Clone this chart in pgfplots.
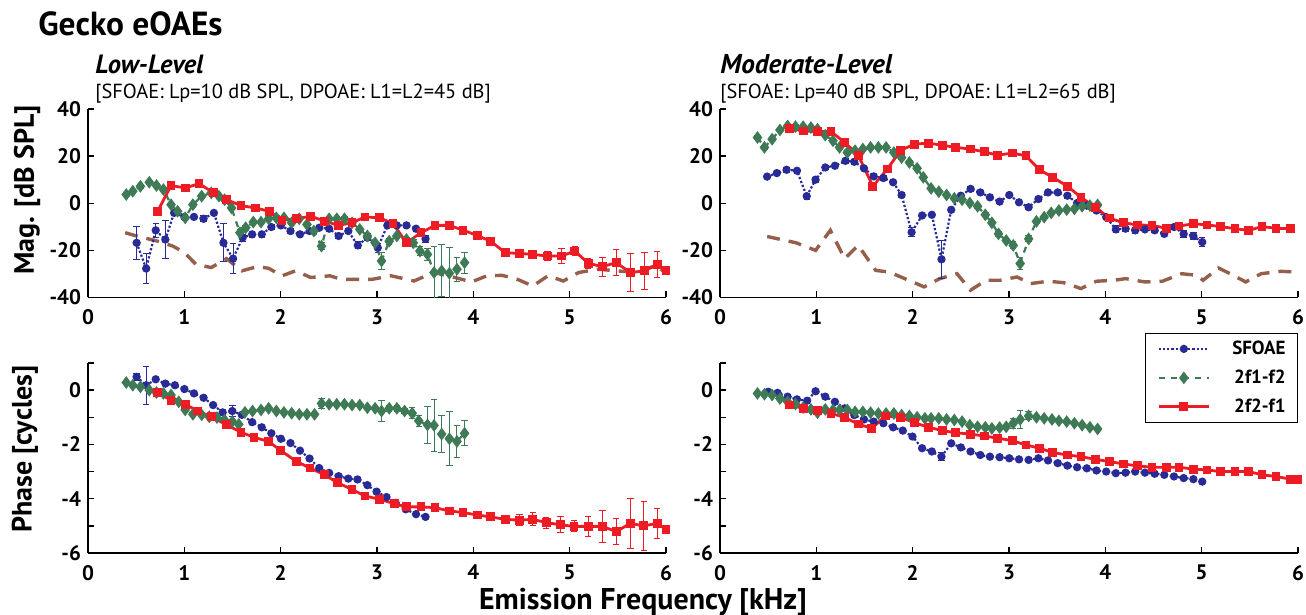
\documentclass[border=0pt]{standalone}
\usepackage{fontspec}
\setmainfont{PT Sans}
\usepackage{pgfplots}
\pgfplotsset{compat=1.18}
\definecolor{cblue}{RGB}{40,42,150}
\definecolor{cgreen}{RGB}{62,122,86}
\definecolor{cred}{RGB}{237,28,36}
\definecolor{cbrown}{RGB}{150,95,75}
\pgfplotsset{
 panel/.style={scale only axis, width=289pt, xmin=0, xmax=6, xtick={0,...,6},
   axis x line*=bottom, axis y line*=left, axis line style={line width=0.9pt,-},
   tick style={line width=0.7pt, black}, major tick length=3pt, tick align=inside,
   tick label style={font=\bfseries\fontsize{10.5}{12}\selectfont},
   xticklabel style={yshift=-2.5pt},
   /pgf/number format/assume math mode=true, anchor=south west,
   legend image code/.code={\draw[mark repeat=2,mark phase=2,##1] plot coordinates {(0pt,0pt) (12.5pt,0pt) (25pt,0pt)};}},
 magpanel/.style={panel, height=94.25pt, ymin=-40, ymax=40, ytick={-40,-20,0,20,40}},
 phasepanel/.style={panel, height=95pt, ymin=-6, ymax=1, ytick={-6,-5,-4,-3,-2,-1,0,1}, yticklabels={-6,,-4,,-2,,0,}},
 errs/.style={error bars/.cd, y dir=both, y explicit, error mark=|, error bar style={solid, line width=0.5pt}, error mark options={solid, mark size=1.6pt, line width=0.5pt}},
 sfoae/.style={color=cblue, densely dotted, line width=1.1pt, mark=*, mark size=1.5pt, mark options={solid}, errs},
 dpa/.style={color=cgreen, dashed, line width=1.1pt, mark=diamond*, mark size=2.3pt, mark options={solid}, errs},
 dpb/.style={color=cred, solid, line width=1.4pt, mark=square*, mark size=1.5pt, mark options={solid}, errs},
 noise/.style={color=cbrown, line width=1.7pt, dash pattern=on 6.5pt off 4.5pt, forget plot},
}
\begin{document}
\begin{tikzpicture}
\path[use as bounding box] (0,0) rectangle (653pt,307.5pt);
\node[anchor=base west, inner sep=0pt, font=\bfseries\fontsize{16.7}{19}\selectfont] at (19pt,289.5pt) {Gecko eOAEs};
\node[anchor=base west, inner sep=0pt, font=\bfseries\itshape\fontsize{13.2}{15}\selectfont] at (47.5pt,270.5pt) {Low-Level};
\node[anchor=base west, inner sep=0pt, font=\fontsize{10.2}{12}\selectfont] at (47.5pt,258pt) {[SFOAE: Lp=10 dB SPL, DPOAE: L1=L2=45 dB]};
\node[anchor=base west, inner sep=0pt, font=\bfseries\itshape\fontsize{13.6}{15}\selectfont] at (360pt,270.5pt) {Moderate-Level};
\node[anchor=base west, inner sep=0pt, font=\fontsize{10.2}{12}\selectfont] at (360pt,258pt) {[SFOAE: Lp=40 dB SPL, DPOAE: L1=L2=65 dB]};
\node[rotate=90, inner sep=0pt, font=\bfseries\fontsize{14}{16}\selectfont] at (13.5pt,212.5pt) {Mag. [dB SPL]};
\node[rotate=90, inner sep=0pt, font=\bfseries\fontsize{14}{16}\selectfont] at (12.5pt,83pt) {Phase [cycles]};
\node[inner sep=0pt, font=\bfseries\fontsize{15}{17}\selectfont] at (321.5pt,6.5pt) {Emission Frequency [kHz]};

% ---------------- top-left: magnitude, low level
\begin{axis}[magpanel, at={(44pt,158.75pt)}]
\addplot[noise] table {
x y
0.385 -12.5
0.505 -13.9
0.723 -16.1
0.882 -18.2
1.001 -21.0
1.12 -25.9
1.279 -27.3
1.438 -23.5
1.597 -28.7
1.756 -26.9
1.875 -27.6
2.014 -30.8
2.153 -28.7
2.312 -31.5
2.511 -30.8
2.63 -32.3
2.789 -32.3
2.948 -32.3
3.147 -30.8
3.385 -33.0
3.584 -29.4
3.743 -30.8
3.981 -33.4
4.14 -30.8
4.299 -30.6
4.458 -32.3
4.617 -35.1
4.776 -30.8
4.934 -33.0
5.093 -29.4
5.292 -28.0
5.491 -28.7
5.689 -29.4
5.888 -26.6
6.0 -29.4
};
\addplot[sfoae] table[x=x,y=y,y error=e] {
x y e
0.505 -16.8 7
0.604 -27.7 6.3
0.703 -11.5 3
0.803 -15.4 8
0.894 -4.1 1
1.001 -5.8 1
1.1 -5.8 1
1.2 -6.6 1.2
1.307 -4.1 1
1.406 -16.8 8
1.506 -23.5 6.5
1.605 -14.6 1.5
1.704 -13.2 1.2
1.804 -13.2 1.2
1.903 -10.1 1
2.002 -9.4 1
2.102 -11.8 1.2
2.201 -13.2 1
2.3 -11.8 1
2.4 -10.4 1
2.503 -10.8 1
2.602 -13.9 1.2
2.702 -11.8 1
2.801 -17.9 1.5
2.9 -14.6 1
3.008 -18.9 2
3.107 -9.4 1
3.206 -9.4 1
3.306 -9.4 1
3.405 -10.8 1
3.504 -15.1 1.5
};
\addplot[dpa] table[x=x,y=y,y error=e] {
x y e
0.397 3.7 0.8
0.465 5.1 0.8
0.544 7.2 0.8
0.636 8.9 0.8
0.711 7.5 0.8
0.783 5.8 0.8
0.862 -0.6 0.8
0.930 -3.4 0.8
1.009 -6.2 1
1.089 -0.6 1
1.18 3.0 0.8
1.279 4.4 0.8
1.359 3.0 0.8
1.418 1.5 0.8
1.49 -2.0 0.8
1.577 -12.5 1.2
1.637 -10.4 1
1.716 -8.0 0.8
1.796 -8.0 0.8
1.875 -6.6 0.8
1.955 -6.2 0.8
2.034 -6.2 0.8
2.114 -8.3 0.8
2.193 -6.6 0.8
2.273 -9.0 0.8
2.344 -11.8 1
2.424 -18.2 1.5
2.503 -6.6 0.8
2.582 -6.6 0.8
2.662 -6.6 0.8
2.741 -8.3 0.8
2.821 -11.1 0.8
2.9 -13.9 1
2.98 -16.8 1
3.047 -24.5 3.5
3.127 -16.1 1.2
3.206 -13.9 1
3.306 -15.4 1
3.377 -16.8 1.5
3.445 -20.3 2
3.524 -21.7 2.5
3.592 -29.4 11
3.671 -28.7 11
3.751 -29.7 11
3.83 -28.0 5
3.909 -25.2 4.5
};
\addplot[dpb] table[x=x,y=y,y error=e] {
x y e
0.723 -3.4 1.5
0.862 7.5 1
1.009 6.5 0.8
1.152 8.3 0.8
1.299 4.6 0.8
1.438 1.5 0.8
1.589 -1.0 0.8
1.736 -2.0 0.8
1.883 -3.4 0.8
2.014 -7.2 1
2.161 -6.6 0.8
2.312 -5.5 0.8
2.459 -7.6 0.8
2.598 -9.4 0.8
2.741 -8.3 0.8
2.876 -5.8 0.8
3.027 -6.2 0.8
3.166 -8.6 1
3.306 -16.8 1.5
3.457 -12.5 1
3.603 -9.4 0.8
3.751 -9.4 0.8
3.893 -11.4 0.8
4.04 -13.7 1
4.18 -16.1 1
4.33 -21.0 1.6
4.478 -21.3 1.5
4.617 -21.7 1.5
4.768 -22.4 2
4.915 -22.4 3
5.054 -20.3 2
5.193 -25.5 2.2
5.34 -26.9 4
5.483 -25.2 5.5
5.63 -29.4 8
5.777 -28.7 8
5.908 -25.9 5.5
6.0 -28.7 1.5
};
\end{axis}

% ---------------- top-right: magnitude, moderate level
\begin{axis}[magpanel, at={(360pt,158.75pt)}]
\addplot[noise] table {
x y
0.489 -14.1
0.791 -16.8
0.992 -20.0
1.145 -11.5
1.294 -23.5
1.435 -17.9
1.616 -28.5
1.757 -29.2
1.918 -32.0
2.119 -35.5
2.28 -32.0
2.46 -29.9
2.601 -36.9
2.762 -32.7
2.903 -32.7
3.084 -31.3
3.224 -34.1
3.405 -33.1
3.566 -33.7
3.747 -36.2
3.908 -33.1
4.089 -32.7
4.21 -32.0
4.411 -33.4
4.592 -33.1
4.793 -29.9
4.954 -30.6
5.014 -32.7
5.175 -27.5
5.296 -29.9
5.457 -33.4
5.618 -29.9
5.819 -28.9
6.0 -29.2
};
\addplot[sfoae] table[x=x,y=y,y error=e] {
x y e
0.489 11.3 1
0.59 12.8 1
0.691 14.2 1
0.799 13.8 1
0.9 3.0 1.2
0.992 10.0 1
1.093 15.2 1
1.193 15.9 1
1.302 18.0 1
1.394 17.6 1
1.495 14.8 1
1.596 11.4 1
1.696 10.7 1
1.797 8.9 1
1.885 3.5 1
1.989 -12.3 2
2.098 -5.2 1
2.199 -4.9 1
2.299 -23.8 8
2.4 -2.8 1
2.5 3.2 1
2.601 6.1 1
2.702 4.6 1
2.802 2.5 1
2.903 0.7 1
3.003 3.5 1
3.104 0.4 1
3.204 -1.7 1
3.305 1.8 1
3.405 4.6 1
3.506 4.6 1
3.606 3.2 1
3.707 0.1 1
3.808 -1.0 1
3.908 -3.1 1
4.009 -5.9 1
4.109 -11.1 1.5
4.21 -10.8 1
4.31 -11.5 1.2
4.411 -11.1 1
4.512 -11.5 1
4.612 -13.0 1.2
4.713 -10.1 1
4.813 -13.0 1.5
4.914 -13.9 1.5
5.006 -16.5 2
};
\addplot[dpa] table[x=x,y=y,y error=e] {
x y e
0.389 27.9 0.8
0.461 23.7 0.8
0.541 27.2 0.8
0.622 31.1 0.8
0.702 32.8 0.8
0.783 32.5 0.8
0.863 32.5 0.8
0.944 32.1 0.8
1.012 31.4 0.8
1.093 28.9 0.8
1.173 26.5 0.8
1.241 23.7 0.8
1.322 21.5 0.8
1.402 22.3 0.8
1.483 23.0 0.8
1.563 23.7 0.8
1.644 23.7 0.8
1.724 23.7 0.8
1.805 21.5 0.8
1.885 19.4 0.8
1.966 17.3 0.8
2.046 14.8 0.8
2.11 11.0 0.8
2.191 6.3 0.8
2.271 4.9 0.8
2.352 3.5 0.8
2.432 2.1 0.8
2.513 1.5 0.8
2.593 0.1 0.8
2.674 -1.3 0.8
2.754 -4.9 0.8
2.822 -8.3 0.8
2.891 -13.0 1
2.971 -15.8 1
3.044 -17.9 1.5
3.116 -25.6 2.5
3.204 -15.1 1.2
3.285 -7.7 1
3.365 -5.9 0.8
3.438 -4.1 0.8
3.518 -3.1 0.8
3.599 -2.7 0.8
3.679 -2.4 0.8
3.759 -1.3 0.8
3.84 -1.0 0.8
3.92 -0.7 0.8
};
\addplot[dpb] table[x=x,y=y,y error=e] {
x y e
0.718 31.7 0.8
0.863 30.7 0.8
1.012 30.4 0.8
1.153 30.4 0.8
1.294 25.8 0.8
1.435 20.4 0.8
1.587 7.2 1
1.736 14.5 1
1.877 22.5 0.8
2.018 25.1 0.8
2.166 25.5 0.8
2.311 24.6 0.8
2.448 23.7 0.8
2.601 23.0 0.8
2.742 21.8 0.8
2.882 20.4 0.8
3.035 21.3 0.8
3.176 20.1 0.8
3.317 14.2 0.8
3.454 11.0 0.8
3.607 7.2 0.8
3.747 2.5 0.8
3.896 -1.7 0.8
4.041 -6.3 0.8
4.19 -8.3 0.8
4.331 -9.2 0.8
4.484 -9.4 0.8
4.632 -10.6 0.8
4.765 -9.7 0.8
4.914 -8.7 0.8
5.055 -9.2 0.8
5.196 -9.9 0.8
5.345 -10.8 0.8
5.49 -11.5 0.8
5.626 -9.9 0.8
5.771 -10.6 0.8
5.92 -10.8 0.8
};
\end{axis}

% ---------------- bottom-left: phase, low level
\begin{axis}[phasepanel, at={(44pt,31pt)}]
\addplot[sfoae] table[x=x,y=y,y error=e] {
x y e
0.505 0.49 0.12
0.604 0.18 0.7
0.703 0.40 0.06
0.803 0.24 0.06
0.902 0.18 0.06
1.001 0.04 0.06
1.1 -0.12 0.06
1.2 -0.28 0.06
1.299 -0.55 0.06
1.398 -0.82 0.1
1.498 -0.77 0.2
1.597 -0.91 0.06
1.704 -1.18 0.06
1.804 -1.37 0.06
1.903 -1.59 0.06
2.002 -1.79 0.06
2.102 -1.95 0.06
2.201 -2.23 0.06
2.3 -2.52 0.06
2.4 -2.87 0.06
2.503 -3.05 0.06
2.602 -3.17 0.06
2.702 -3.26 0.06
2.797 -3.29 0.06
2.9 -3.50 0.06
2.996 -3.74 0.06
3.099 -3.94 0.06
3.194 -4.15 0.06
3.298 -4.39 0.06
3.405 -4.57 0.06
3.504 -4.67 0.06
};
\addplot[dpa] table[x=x,y=y,y error=e] {
x y e
0.397 0.28 0.06
0.465 0.18 0.06
0.544 0.12 0.06
0.636 0.0 0.06
0.711 -0.09 0.06
0.783 -0.12 0.06
0.862 -0.18 0.06
0.942 -0.43 0.06
1.009 -0.73 0.06
1.089 -0.89 0.06
1.18 -0.91 0.06
1.259 -0.98 0.06
1.339 -1.01 0.06
1.418 -1.10 0.06
1.498 -1.16 0.06
1.565 -1.26 0.06
1.629 -0.82 0.06
1.708 -0.77 0.06
1.796 -0.73 0.06
1.875 -0.67 0.06
1.955 -0.77 0.06
2.034 -0.82 0.06
2.114 -0.85 0.06
2.193 -0.89 0.06
2.273 -0.89 0.06
2.352 -0.89 0.06
2.424 -0.49 0.2
2.503 -0.52 0.06
2.582 -0.52 0.06
2.662 -0.52 0.06
2.741 -0.55 0.06
2.821 -0.55 0.06
2.9 -0.65 0.06
2.98 -0.67 0.06
3.047 -0.77 0.39
3.127 -0.67 0.1
3.206 -0.67 0.1
3.286 -0.77 0.1
3.365 -0.85 0.2
3.433 -1.13 0.2
3.524 -1.28 0.67
3.592 -1.30 0.95
3.671 -1.62 0.67
3.751 -1.79 1.0
3.83 -1.89 0.58
3.909 -1.59 0.46
};
\addplot[dpb] table[x=x,y=y,y error=e] {
x y e
0.723 -0.09 0.1
0.862 -0.37 0.06
1.009 -0.52 0.06
1.14 -0.77 0.06
1.279 -0.98 0.06
1.438 -1.28 0.06
1.589 -1.55 0.06
1.724 -1.74 0.06
1.875 -1.89 0.06
2.002 -2.23 0.06
2.161 -2.62 0.06
2.304 -2.87 0.06
2.451 -3.11 0.06
2.59 -3.41 0.06
2.741 -3.66 0.06
2.876 -3.90 0.06
3.027 -4.02 0.06
3.178 -4.18 0.06
3.306 -4.30 0.1
3.457 -4.30 0.06
3.603 -4.33 0.06
3.751 -4.45 0.06
3.893 -4.51 0.06
4.04 -4.60 0.06
4.18 -4.67 0.06
4.33 -4.76 0.1
4.478 -4.79 0.2
4.617 -4.76 0.24
4.756 -4.88 0.2
4.903 -4.96 0.3
5.046 -5.02 0.2
5.193 -5.02 0.38
5.34 -5.02 0.6
5.483 -5.21 0.47
5.63 -4.91 0.93
5.769 -5.0 0.89
5.908 -4.91 0.56
6.0 -5.12 0.1
};
\end{axis}

% ---------------- bottom-right: phase, moderate level
\begin{axis}[phasepanel, at={(360pt,31pt)},
  legend style={at={(1,1.158)}, anchor=north east, draw=black, fill=white,
    font=\bfseries\fontsize{9.5}{10}\selectfont, inner xsep=6pt, inner ysep=4pt,
    row sep=7pt, column sep=11pt, nodes={inner sep=0pt, text height=6.5pt, text depth=1pt}},
  legend cell align=right]
\addplot[sfoae] table[x=x,y=y,y error=e] {
x y e
0.501 -0.06 0.04
0.598 -0.10 0.04
0.702 -0.24 0.04
0.799 -0.34 0.04
0.904 -0.39 0.04
0.992 -0.04 0.04
1.093 -0.24 0.04
1.193 -0.43 0.04
1.294 -0.67 0.04
1.394 -0.92 0.04
1.495 -1.08 0.04
1.596 -1.16 0.04
1.696 -1.22 0.04
1.797 -1.37 0.04
1.897 -1.49 0.04
1.998 -1.71 0.04
2.098 -2.14 0.04
2.199 -2.26 0.04
2.299 -2.45 0.16
2.4 -1.96 0.04
2.5 -2.11 0.04
2.601 -2.26 0.04
2.702 -2.39 0.04
2.802 -2.45 0.04
2.903 -2.47 0.04
3.003 -2.51 0.04
3.104 -2.55 0.04
3.204 -2.57 0.04
3.305 -2.51 0.04
3.405 -2.59 0.04
3.506 -2.69 0.04
3.606 -2.78 0.04
3.707 -2.84 0.04
3.808 -2.88 0.04
3.908 -2.96 0.04
4.009 -3.0 0.04
4.109 -3.06 0.04
4.21 -3.04 0.04
4.31 -3.0 0.04
4.411 -3.04 0.04
4.512 -3.08 0.04
4.612 -3.12 0.04
4.713 -3.18 0.04
4.813 -3.24 0.04
4.914 -3.28 0.04
5.006 -3.37 0.04
};
\addlegendentry{SFOAE}
\addplot[dpa] table[x=x,y=y,y error=e] {
x y e
0.389 -0.12 0.04
0.461 -0.15 0.04
0.541 -0.18 0.04
0.622 -0.31 0.04
0.702 -0.43 0.04
0.783 -0.51 0.04
0.863 -0.64 0.04
0.944 -0.71 0.04
1.012 -0.83 0.04
1.093 -0.71 0.04
1.173 -0.73 0.04
1.241 -0.73 0.04
1.322 -0.73 0.04
1.402 -0.80 0.04
1.483 -0.80 0.04
1.563 -0.83 0.04
1.644 -0.86 0.04
1.724 -0.86 0.04
1.805 -0.86 0.04
1.885 -0.92 0.04
1.966 -0.95 0.04
2.046 -1.0 0.04
2.127 -1.04 0.04
2.191 -1.04 0.04
2.271 -1.04 0.04
2.352 -1.08 0.04
2.432 -1.10 0.04
2.513 -1.16 0.04
2.593 -1.29 0.04
2.674 -1.35 0.04
2.754 -1.37 0.04
2.822 -1.41 0.04
2.903 -1.38 0.04
2.971 -1.35 0.04
3.044 -1.22 0.18
3.116 -1.08 0.32
3.204 -0.95 0.15
3.285 -1.0 0.04
3.365 -1.04 0.04
3.446 -1.08 0.04
3.518 -1.13 0.04
3.599 -1.16 0.04
3.679 -1.22 0.04
3.759 -1.29 0.04
3.84 -1.37 0.04
3.92 -1.43 0.04
};
\addlegendentry{2f1-f2}
\addplot[dpb] table[x=x,y=y,y error=e] {
x y e
0.718 -0.55 0.05
0.863 -0.67 0.05
1.012 -0.76 0.05
1.153 -0.86 0.05
1.294 -1.0 0.05
1.435 -1.25 0.05
1.576 -1.41 0.06
1.716 -0.95 0.05
1.877 -1.0 0.05
2.018 -1.2 0.05
2.166 -1.37 0.05
2.311 -1.49 0.05
2.448 -1.57 0.05
2.601 -1.62 0.05
2.742 -1.69 0.05
2.882 -1.77 0.05
3.035 -1.86 0.05
3.176 -2.02 0.05
3.317 -2.14 0.05
3.454 -2.30 0.05
3.607 -2.39 0.05
3.747 -2.45 0.05
3.896 -2.55 0.05
4.041 -2.63 0.05
4.19 -2.72 0.05
4.331 -2.79 0.05
4.484 -2.84 0.05
4.632 -2.84 0.05
4.765 -2.84 0.05
4.914 -2.91 0.05
5.055 -2.94 0.05
5.196 -3.0 0.05
5.345 -3.0 0.05
5.49 -3.0 0.05
5.626 -3.12 0.05
5.771 -3.18 0.05
5.92 -3.28 0.05
6.0 -3.30 0.05
};
\addlegendentry{2f2-f1}
\end{axis}
\end{tikzpicture}
\end{document}
